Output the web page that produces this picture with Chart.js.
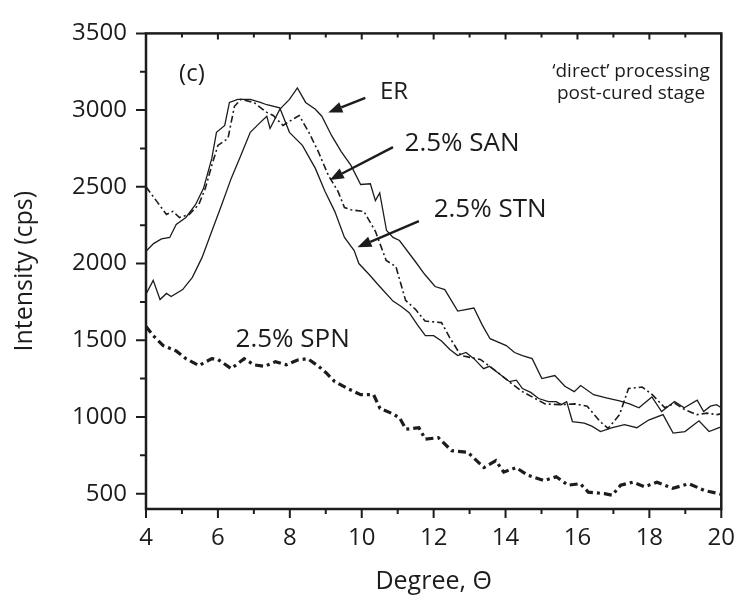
<!DOCTYPE html>
<html>
<head>
<meta charset="utf-8">
<script src="https://cdn.jsdelivr.net/npm/chart.js@4.4.1/dist/chart.umd.min.js"></script>
<style>
  html, body { margin: 0; padding: 0; background: #fff; }
</style>
</head>
<body>
<canvas id="xrd" width="750" height="597"></canvas>
<script>
// Degree axis ticks (major) and intensity ticks
const xTicks = [4, 6, 8, 10, 12, 14, 16, 18, 20];
const yTicks = [500, 1000, 1500, 2000, 2500, 3000, 3500];

// ER (solid, right peak)
const erX = [4.0, 4.2, 4.39, 4.57, 4.7, 5.02, 5.29, 5.56, 5.83, 6.1, 6.37, 6.64, 6.9, 7.18, 7.36, 7.45, 7.72, 7.99, 8.21, 8.44, 8.71, 8.89, 9.16, 9.43, 9.7, 9.97, 10.24, 10.38, 10.5, 10.69, 10.87, 11.05, 11.5, 11.75, 12.04, 12.31, 12.67, 13.12, 13.35, 13.57, 14.02, 14.25, 14.47, 14.74, 15.01, 15.37, 15.65, 15.91, 16.09, 16.45, 16.8, 17.17, 17.45, 17.71, 18.07, 18.34, 18.7, 18.97, 19.33, 19.51, 19.7, 19.87, 20.0];
const erY = [1800, 1890, 1765, 1805, 1785, 1830, 1910, 2040, 2210, 2380, 2555, 2705, 2855, 2920, 2960, 2880, 3005, 3070, 3145, 3050, 3005, 2960, 2835, 2730, 2640, 2515, 2520, 2410, 2460, 2215, 2170, 2150, 2010, 1930, 1850, 1830, 1690, 1710, 1600, 1510, 1465, 1420, 1400, 1380, 1250, 1270, 1200, 1165, 1205, 1145, 1125, 1105, 1085, 1060, 1130, 1035, 1100, 1060, 1110, 1035, 1070, 1080, 1060];

// 2.5% STN (solid, left peak)
const stnX = [4.0, 4.21, 4.43, 4.66, 4.84, 5.11, 5.38, 5.6, 5.83, 5.96, 6.19, 6.32, 6.55, 6.9, 7.18, 7.36, 7.72, 7.99, 8.35, 8.71, 8.98, 9.25, 9.52, 9.79, 9.92, 10.2, 10.5, 10.87, 11.1, 11.32, 11.55, 11.77, 12.0, 12.22, 12.45, 12.67, 12.9, 13.12, 13.39, 13.55, 13.75, 14.11, 14.3, 14.47, 14.7, 14.92, 15.19, 15.41, 15.55, 15.7, 15.86, 16.19, 16.4, 16.64, 16.97, 17.31, 17.65, 17.98, 18.38, 18.66, 18.99, 19.38, 19.66, 19.94, 20.0];
const stnY = [2080, 2130, 2160, 2170, 2255, 2300, 2385, 2490, 2685, 2855, 2900, 3050, 3070, 3070, 3050, 3035, 3015, 2855, 2770, 2620, 2470, 2340, 2170, 2085, 2000, 1930, 1850, 1755, 1720, 1680, 1600, 1530, 1530, 1495, 1440, 1400, 1420, 1380, 1315, 1330, 1295, 1230, 1240, 1185, 1160, 1120, 1100, 1100, 1080, 1100, 970, 960, 940, 905, 930, 950, 930, 980, 1015, 895, 905, 975, 905, 930, 935];

// 2.5% SAN (thin dash-dot)
const sanX = [4.0, 4.3, 4.57, 4.75, 4.93, 5.2, 5.47, 5.65, 5.83, 6.0, 6.28, 6.46, 6.64, 7.0, 7.36, 7.54, 7.81, 8.08, 8.26, 8.53, 8.8, 9.07, 9.34, 9.52, 9.7, 10.06, 10.38, 10.68, 10.95, 11.22, 11.5, 11.76, 12.22, 12.44, 12.76, 13.3, 13.76, 14.1, 14.47, 15.1, 15.54, 15.92, 16.27, 16.63, 16.85, 17.17, 17.42, 17.8, 18.08, 18.43, 18.7, 18.97, 19.32, 19.6, 19.87, 20.0];
const sanY = [2500, 2405, 2320, 2340, 2300, 2320, 2385, 2490, 2640, 2770, 2815, 3025, 3070, 3050, 2985, 2965, 2900, 2940, 2965, 2855, 2725, 2575, 2470, 2365, 2350, 2340, 2210, 2020, 1980, 1760, 1700, 1625, 1615, 1520, 1400, 1375, 1295, 1230, 1165, 1085, 1080, 1085, 1070, 970, 925, 1015, 1185, 1195, 1145, 1060, 1090, 1050, 1015, 1025, 1015, 1020];

// 2.5% SPN (thick dash-dot)
const spnX = [4.0, 4.2, 4.48, 4.84, 5.11, 5.47, 5.83, 6.0, 6.37, 6.73, 7.0, 7.3, 7.6, 7.9, 8.2, 8.5, 8.8, 9.0, 9.25, 9.61, 9.97, 10.33, 10.51, 10.82, 11.05, 11.23, 11.59, 11.77, 12.13, 12.5, 12.95, 13.4, 13.73, 13.95, 14.29, 14.62, 15.07, 15.41, 15.74, 16.08, 16.3, 16.75, 16.97, 17.2, 17.54, 17.87, 18.21, 18.65, 19.1, 19.54, 19.94, 20.0];
const spnY = [1590, 1530, 1465, 1430, 1380, 1335, 1380, 1375, 1315, 1380, 1340, 1330, 1360, 1340, 1370, 1380, 1330, 1290, 1230, 1185, 1145, 1145, 1055, 1025, 995, 920, 930, 855, 865, 780, 770, 670, 715, 640, 670, 620, 585, 610, 555, 565, 510, 500, 490, 555, 575, 545, 575, 535, 565, 520, 500, 495];

const FONT = "'Open Sans', 'Noto Sans', sans-serif";
const INK = '#1c1c1c';

function pts(xs, ys) {
    return xs.map((x, i) => ({ x: x, y: ys[i] }));
}

// Text labels and arrows, in data units
const notes = [
    { text: '(c)', x: 4.92, y: 3232, align: 'left', size: 24 },
    { text: '\u2018direct\u2019 processing', x: 17.49, y: 3252, align: 'center', size: 19 },
    { text: 'post-cured stage', x: 17.49, y: 3110, align: 'center', size: 19 },
    { text: 'ER', x: 10.9, y: 3117, align: 'center', size: 24 },
    { text: '2.5% SAN', x: 11.19, y: 2783, align: 'left', size: 26 },
    { text: '2.5% STN', x: 12.0, y: 2353, align: 'left', size: 26 },
    { text: '2.5% SPN', x: 6.49, y: 1505, align: 'left', size: 26 }
];
const arrows = [
    [10.1, 3080, 9.07, 2984],
    [10.87, 2759, 9.11, 2545],
    [11.59, 2277, 9.88, 2106]
];

const framePlugin = {
    id: 'frame',
    afterDatasetsDraw(chart) {
        const { ctx, chartArea: a, scales: { x, y } } = chart;
        ctx.save();
        ctx.strokeStyle = INK;
        ctx.lineWidth = 2.5;
        ctx.strokeRect(a.left, a.top, a.right - a.left, a.bottom - a.top);

        ctx.lineWidth = 2;
        ctx.beginPath();
        for (let v = 4; v <= 20; v++) {
            const px = x.getPixelForValue(v);
            const major = v % 2 === 0;
            ctx.moveTo(px, a.bottom);
            ctx.lineTo(px, a.bottom + (major ? 9 : 5));
            ctx.moveTo(px, a.top);
            ctx.lineTo(px, a.top + (major ? 6 : 4));
        }
        for (let v = 500; v <= 3500; v += 250) {
            const py = y.getPixelForValue(v);
            const major = v % 500 === 0;
            ctx.moveTo(a.left, py);
            ctx.lineTo(a.left - (major ? 10 : 6), py);
        }
        ctx.stroke();

        // arrows
        arrows.forEach(([x1, y1, x2, y2]) => {
            const sx = x.getPixelForValue(x1), sy = y.getPixelForValue(y1);
            const ex = x.getPixelForValue(x2), ey = y.getPixelForValue(y2);
            const ang = Math.atan2(ey - sy, ex - sx);
            const hl = 14, hw = 5.5;
            const bx = ex - hl * Math.cos(ang), by = ey - hl * Math.sin(ang);
            ctx.lineWidth = 2.4;
            ctx.beginPath();
            ctx.moveTo(sx, sy);
            ctx.lineTo(bx, by);
            ctx.stroke();
            ctx.fillStyle = INK;
            ctx.beginPath();
            ctx.moveTo(ex, ey);
            ctx.lineTo(bx + hw * Math.sin(ang), by - hw * Math.cos(ang));
            ctx.lineTo(bx - hw * Math.sin(ang), by + hw * Math.cos(ang));
            ctx.closePath();
            ctx.fill();
        });

        // text notes
        ctx.fillStyle = INK;
        ctx.textBaseline = 'middle';
        notes.forEach(n => {
            ctx.font = n.size + 'px ' + FONT;
            ctx.textAlign = n.align;
            ctx.fillText(n.text, x.getPixelForValue(n.x), y.getPixelForValue(n.y));
        });
        ctx.restore();
    }
};

const ctx = document.getElementById('xrd').getContext('2d');
new Chart(ctx, {
    type: 'line',
    data: {
        datasets: [
            { label: 'ER', data: pts(erX, erY), borderColor: INK, borderWidth: 1.3 },
            { label: '2.5% STN', data: pts(stnX, stnY), borderColor: INK, borderWidth: 1.3 },
            { label: '2.5% SAN', data: pts(sanX, sanY), borderColor: INK, borderWidth: 1.6, borderDash: [7, 3, 2, 3] },
            { label: '2.5% SPN', data: pts(spnX, spnY), borderColor: INK, borderWidth: 3.2, borderDash: [8, 4, 3, 4] }
        ]
    },
    options: {
        responsive: false,
        animation: false,
        elements: { point: { radius: 0 }, line: { tension: 0 } },
        layout: { padding: { top: 27, right: 12, left: 0, bottom: 0 } },
        plugins: {
            legend: { display: false },
            tooltip: { enabled: false }
        },
        scales: {
            x: {
                type: 'linear',
                min: 4,
                max: 20,
                grid: { display: false, drawTicks: false },
                border: { display: false },
                afterBuildTicks: s => { s.ticks = xTicks.map(v => ({ value: v })); },
                afterFit: s => { s.height = 88; },
                ticks: { padding: 15, color: INK, font: { family: FONT, size: 24 }, autoSkip: false, maxRotation: 0,
                         callback: v => String(v) },
                title: { display: true, text: 'Degree, \u0398', color: INK, font: { family: FONT, size: 25 }, padding: { top: 0, bottom: 0 } }
            },
            y: {
                type: 'linear',
                min: 400,
                max: 3500,
                grid: { display: false, drawTicks: false },
                border: { display: false },
                afterBuildTicks: s => { s.ticks = yTicks.map(v => ({ value: v })); },
                afterFit: s => { s.width = 146; },
                ticks: { padding: 19, color: INK, font: { family: FONT, size: 24 }, autoSkip: false,
                         callback: v => String(v) },
                title: { display: true, text: 'Intensity (cps)', color: INK, font: { family: FONT, size: 25 }, padding: { top: 10, bottom: 0 } }
            }
        }
    },
    plugins: [framePlugin]
});
</script>
</body>
</html>
